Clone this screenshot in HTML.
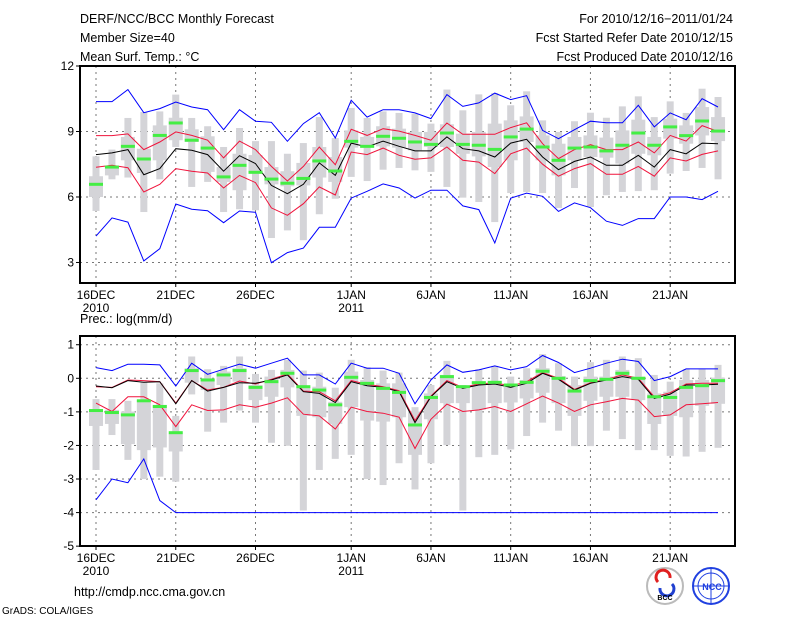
<!DOCTYPE html>
<html><head><meta charset="utf-8">
<style>
html,body{margin:0;padding:0;background:#fff;}
svg{display:block;font-family:"Liberation Sans",sans-serif;}
</style></head>
<body>
<svg id="chart" width="800" height="618" viewBox="0 0 800 618" xmlns="http://www.w3.org/2000/svg">
<rect width="800" height="618" fill="#fff"/>
<g font-size="12.5" fill="#000">
<text x="80" y="23">DERF/NCC/BCC Monthly Forecast</text>
<text x="80" y="42">Member Size=40</text>
<text x="80" y="61">Mean Surf. Temp.: °C</text>
<text x="733" y="23" text-anchor="end">For 2010/12/16−2011/01/24</text>
<text x="733" y="42" text-anchor="end">Fcst Started Refer Date 2010/12/15</text>
<text x="733" y="61" text-anchor="end">Fcst Produced Date 2010/12/16</text>
<text x="80" y="323">Prec.: log(mm/d)</text>
<text x="74" y="596">http://cmdp.ncc.cma.gov.cn</text>
<text x="2" y="614" font-size="10">GrADS: COLA/IGES</text>
</g>
<g id="top"></g>
<g id="bot"></g>
<g>
<circle cx="665" cy="586" r="18" fill="#fff" stroke="#bbb" stroke-width="2"/>
<path d="M658 582 a7 7 0 1 1 12 -4" fill="none" stroke="#e02020" stroke-width="3"/>
<path d="M672 584 a7 7 0 1 1 -12 4" fill="none" stroke="#2040d0" stroke-width="3"/>
<text x="665" y="600" font-size="7" text-anchor="middle" font-weight="bold">BCC</text>
</g>
<g>
<circle cx="711" cy="586" r="18" fill="#fff" stroke="#2040e0" stroke-width="2"/>
<ellipse cx="711" cy="586" rx="13" ry="13" fill="none" stroke="#2040e0" stroke-width="1"/>
<line x1="693" y1="586" x2="729" y2="586" stroke="#2040e0"/>
<line x1="711" y1="568" x2="711" y2="604" stroke="#2040e0"/>
<text x="712" y="590" font-size="9" text-anchor="middle" fill="#2040e0" font-weight="bold">NCC</text>
</g>
</svg>
<script>
// ---- temperature panel data ----
const days = ["16DEC","17","18","19","20","21DEC","22","23","24","25","26DEC","27","28","29","30","31","1JAN","2","3","4","5","6JAN","7","8","9","10","11JAN","12","13","14","15","16JAN","17","18","19","20","21JAN","22","23","24"];
const xTickDays = [0,5,10,16,21,26,31,36];
const xTickLabels = ["16DEC","21DEC","26DEC","1JAN","6JAN","11JAN","16JAN","21JAN"];
const xYearLabels = ["2010","","","2011","","","",""];
const tTicks = [3,6,9,12];
const tBlueHi = [10.37,10.37,10.92,9.86,10.05,10.35,10.12,10.0,9.08,10.0,9.47,9.42,8.55,9.36,9.86,8.70,10.43,9.66,10.0,10.0,9.85,9.59,10.69,10.15,10.31,10.76,10.46,10.64,9.05,8.67,9.08,9.47,9.40,9.40,10.2,9.21,9.85,9.54,10.5,10.12];
const tBlueLo = [4.21,5.04,4.85,3.07,3.63,5.68,5.44,5.37,4.82,5.36,5.30,2.99,3.45,3.66,4.61,4.61,5.95,6.26,6.6,6.41,5.95,6.31,6.31,5.59,5.42,3.89,5.95,6.18,6.03,5.34,5.73,5.51,4.89,4.70,5.01,5.01,6.0,6.0,5.88,6.26];
const tRedHi = [8.81,8.81,8.89,8.17,8.52,8.98,8.82,8.6,7.79,8.56,8.17,7.4,6.73,7.4,8.29,7.48,9.1,8.82,9.13,9.02,8.82,8.6,9.39,8.87,8.87,8.87,9.18,9.4,8.44,7.76,8.17,8.40,8.17,8.17,8.52,8.02,8.82,8.56,9.27,9.0];
const tRedLo = [7.36,7.45,7.34,6.23,6.58,7.3,7.18,7.1,6.41,6.99,6.66,5.5,5.16,5.69,6.46,6.09,8.06,7.94,8.24,7.91,7.73,7.79,8.29,7.68,7.60,7.07,7.98,8.24,7.5,6.95,7.30,7.53,7.04,7.04,7.40,6.95,7.79,7.65,7.95,8.11];
const tMean = [7.94,8.02,8.17,7.02,7.3,8.21,8.14,7.94,7.18,7.89,7.53,6.53,6.15,6.58,7.56,6.99,8.47,8.29,8.56,8.32,8.11,8.11,8.75,8.21,8.11,7.83,8.47,8.64,7.83,7.25,7.63,7.83,7.45,7.45,7.91,7.37,8.17,7.98,8.47,8.44];
const tMedian = [6.58,7.37,8.32,7.74,8.82,9.39,8.6,8.24,6.92,7.45,7.13,6.82,6.63,6.85,7.65,7.19,8.55,8.32,8.78,8.69,8.52,8.41,8.93,8.41,8.37,8.18,8.75,9.11,8.29,7.68,8.24,8.29,8.11,8.37,8.93,8.37,9.21,8.81,9.48,9.02];
const tWhiskHi = [7.86,8.17,9.62,9.89,9.92,10.69,9.62,9.24,8.29,9.16,8.56,8.56,7.98,8.47,9.66,8.70,10.08,9.62,9.92,9.85,9.82,9.36,10.92,9.97,10.70,10.76,10.2,10.84,9.51,8.98,9.47,9.86,9.63,10.15,10.61,9.66,10.38,9.85,10.96,10.58];
const tWhiskLo = [5.36,6.81,6.89,5.31,6.81,8.29,6.46,6.69,5.31,5.44,5.39,4.12,4.47,4.02,5.21,5.92,6.92,6.73,7.25,7.33,7.22,7.15,6.46,5.97,5.77,4.85,6.18,6.23,6.18,5.5,6.41,5.54,6.08,6.23,6.27,6.31,7.07,7.19,7.33,6.81];
const tBoxHi = [6.95,7.40,8.75,8.21,9.28,9.63,9.1,8.78,7.37,7.98,7.92,7.37,7.18,7.56,8.29,7.83,9.05,8.75,9.24,9.13,8.98,8.98,9.33,8.90,8.98,9.36,9.51,9.69,8.82,8.44,8.75,8.82,8.72,9.05,9.54,8.75,9.59,9.28,10.12,9.66];
const tBoxLo = [6.0,6.99,7.68,7.10,7.68,8.6,8.52,7.15,6.69,6.31,7.07,6.58,6.49,6.53,6.89,6.69,8.26,8.26,8.32,8.26,8.14,8.29,8.29,7.98,7.86,7.37,7.68,8.52,7.68,6.99,7.68,7.83,7.80,7.53,7.98,7.91,8.67,8.44,8.82,8.56];
// ---- precipitation panel data ----
const pTicks = [-5,-4,-3,-2,-1,0,1];
const pBlueHi = [0.32,0.23,0.42,0.42,0.40,-0.23,0.45,0.12,0.27,0.42,0.30,0.45,0.60,0.10,0.10,-0.17,0.45,0.30,0.30,0.15,-0.76,-0.05,0.40,0.18,0.25,0.37,0.25,0.35,0.68,0.47,0.17,0.30,0.45,0.57,0.50,-0.07,0.05,0.28,0.28,0.28];
const pBlueLo = [-3.62,-3.0,-3.11,-2.4,-3.64,-4,-4,-4,-4,-4,-4,-4,-4,-4,-4,-4,-4,-4,-4,-4,-4,-4,-4,-4,-4,-4,-4,-4,-4,-4,-4,-4,-4,-4,-4,-4,-4,-4,-4,-4];
const pRedHi = [-0.25,-0.27,-0.05,-0.07,-0.10,-0.74,-0.07,-0.35,-0.27,-0.08,-0.17,-0.03,0.13,-0.38,-0.40,-0.67,-0.07,-0.18,-0.25,-0.37,-1.26,-0.53,-0.07,-0.27,-0.17,-0.13,-0.23,-0.10,0.17,0,-0.33,-0.13,-0.03,0.10,0,-0.55,-0.43,-0.17,-0.15,-0.15];
const pRedLo = [-0.74,-0.99,-0.55,-0.55,-0.79,-1.44,-0.79,-0.96,-0.94,-0.79,-0.86,-0.74,-0.58,-1.07,-1.12,-1.51,-0.86,-0.99,-1.04,-1.16,-2.09,-1.22,-0.77,-0.99,-0.94,-0.84,-0.99,-0.76,-0.53,-0.74,-0.99,-0.79,-0.70,-0.60,-0.65,-1.14,-1.09,-0.79,-0.76,-0.72];
const pMean = [-0.23,-0.28,-0.07,-0.12,-0.10,-0.76,-0.07,-0.38,-0.27,-0.13,-0.15,-0.05,0.10,-0.40,-0.45,-0.72,-0.10,-0.22,-0.27,-0.40,-1.32,-0.55,-0.10,-0.30,-0.20,-0.17,-0.27,-0.15,0.15,-0.03,-0.35,-0.15,-0.05,0.05,-0.03,-0.60,-0.47,-0.20,-0.20,-0.18];
const pMedian = [-0.96,-1.02,-1.09,-0.67,-0.84,-1.62,0.23,-0.05,0.10,0.23,-0.27,-0.10,0.15,-0.25,-0.35,-0.79,0.03,-0.15,-0.30,-0.42,-1.39,-0.57,0.05,-0.25,-0.13,-0.12,-0.20,-0.12,0.21,0,-0.38,-0.07,-0.03,0.15,0,-0.55,-0.57,-0.27,-0.22,-0.07];
const pWhiskHi = [-0.62,-0.62,-0.67,-0.10,-0.15,-1.12,0.65,0.27,0.37,0.65,0.13,0.25,0.55,0.23,0.17,-0.28,0.55,0.33,0.23,0.17,-0.86,-0.20,0.52,-0.20,0.27,0.37,0.05,0.30,0.72,0.45,0.05,0.48,0.55,0.65,0.60,0.10,-0.10,0.27,0.27,0.40];
const pWhiskLo = [-2.73,-1.69,-2.43,-3.0,-2.93,-3.08,-0.48,-1.59,-1.32,-0.96,-1.32,-1.92,-2.01,-3.94,-2.73,-2.40,-2.28,-3.0,-3.18,-2.53,-3.31,-2.53,-1.99,-3.94,-2.35,-2.28,-2.12,-1.72,-1.32,-1.56,-2.02,-2.02,-1.56,-1.81,-2.14,-2.14,-2.31,-2.33,-2.19,-2.07];
const pBoxHi = [-0.92,-0.94,-0.99,-0.65,-0.79,-1.64,0.30,0,0.20,0.30,-0.20,0.05,0.25,-0.25,-0.25,-0.70,0.20,-0.05,-0.15,-0.15,-0.99,-0.45,0.10,-0.30,-0.10,-0.10,-0.20,-0.05,0.30,0.07,-0.20,0.05,0.05,0.25,0.05,-0.45,-0.40,-0.05,-0.05,0.02];
const pBoxLo = [-1.42,-1.36,-1.96,-2.14,-2.06,-2.18,-0.13,-0.35,-0.20,-0.10,-0.65,-0.55,-0.27,-1.12,-1.16,-1.36,-0.86,-1.26,-1.29,-1.16,-2.28,-1.22,-0.74,-0.74,-0.94,-0.74,-0.72,-0.60,-0.43,-0.74,-1.12,-0.67,-0.55,-0.55,-0.65,-1.36,-1.12,-1.16,-0.82,-0.76];

const NS = "http://www.w3.org/2000/svg";
const L = 80, R = 735;
function xS(d){ return 96 + d * 15.95; }
function mk(parent, tag, attrs){
  const e = document.createElementNS(NS, tag);
  for (const k in attrs) e.setAttribute(k, attrs[k]);
  parent.appendChild(e);
  return e;
}
function panel(g, top, bottom, yS, ticks, d){
  ticks.forEach(function(t){
    const y = yS(t);
    if (y > top + 1 && y < bottom - 1) {
      const gl = mk(g, "line", {x1:L, x2:R, y1:y, y2:y, stroke:"#777", "stroke-width":1, "stroke-dasharray":"2,4"});
      
      
    }
    const tk = mk(g, "line", {x1:L-4, x2:L, y1:y, y2:y, stroke:"#000"});
    
    
    const lb = mk(g, "text", {x:L-6, y:y+4, "text-anchor":"end", "font-size":12});
    lb.textContent = t;
    
    
  });
  xTickDays.forEach(function(dd, i){
    const x = xS(dd);
    const gl = mk(g, "line", {x1:x, x2:x, y1:top, y2:bottom, stroke:"#777", "stroke-dasharray":"2,4"});
    
    
    const tk = mk(g, "line", {x1:x, x2:x, y1:bottom, y2:bottom+4, stroke:"#000"});
    
    
    const lb = mk(g, "text", {x:x, y:bottom+16, "text-anchor":"middle", "font-size":12});
    lb.textContent = xTickLabels[i];
    
    
    if (xYearLabels[i]) {
      const yl = mk(g, "text", {x:x, y:bottom+29, "text-anchor":"middle", "font-size":12});
      yl.textContent = xYearLabels[i];
      
      
    }
  });
  days.forEach(function(_, i){
    const x = xS(i);
    const w1 = mk(g, "rect", {x:x-3.5, y:yS(d.wh[i]), width:7, height:Math.max(0, yS(d.wl[i])-yS(d.wh[i])), fill:"#d4d4d8"});
    
    
    const b1 = mk(g, "rect", {x:x-7, y:yS(d.bh[i]), width:14, height:Math.max(0, yS(d.bl[i])-yS(d.bh[i])), fill:"#d4d4d8"});
    
    
  });
  function line(arr, color, name){
    const pts = arr.map(function(v, i){ return xS(i).toFixed(1) + "," + yS(v).toFixed(1); }).join(" ");
    const p = mk(g, "polyline", {points:pts, fill:"none", stroke:color, "stroke-width":1});
    
    
  }
  line(d.bh2, "#0000ff", "max-line");
  line(d.bl2, "#0000ff", "min-line");
  line(d.rh, "#f0143c", "upper-spread-line");
  line(d.rl, "#f0143c", "lower-spread-line");
  line(d.m, "#000", "ensemble-mean-line");
  d.md.forEach(function(v, i){
    const r = mk(g, "rect", {x:xS(i)-7, y:yS(v)-1.5, width:14, height:3, fill:"#44ee44"});
    
    
  });
  const fr = mk(g, "rect", {x:L, y:top, width:R-L, height:bottom-top, fill:"none", stroke:"#000", "stroke-width":2});
  
  
}
const gTop = document.getElementById("top");


panel(gTop, 66, 283, function(v){ return 66 + (12 - v) * 21.83; }, tTicks,
  {wh:tWhiskHi, wl:tWhiskLo, bh:tBoxHi, bl:tBoxLo, bh2:tBlueHi, bl2:tBlueLo, rh:tRedHi, rl:tRedLo, m:tMean, md:tMedian});
const gBot = document.getElementById("bot");


panel(gBot, 336, 546, function(v){ return 378.3 - v * 33.57; }, pTicks,
  {wh:pWhiskHi, wl:pWhiskLo, bh:pBoxHi, bl:pBoxLo, bh2:pBlueHi, bl2:pBlueLo, rh:pRedHi, rl:pRedLo, m:pMean, md:pMedian});
</script>
</body></html>
